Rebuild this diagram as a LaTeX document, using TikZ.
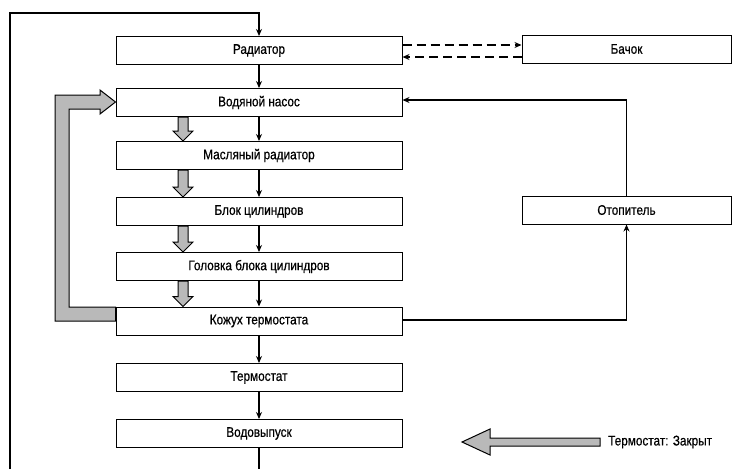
\documentclass[tikz,border=0pt]{standalone}
\usepackage{fontspec}
\setmainfont{Liberation Sans}[FakeStretch=0.84,FakeBold=0.6]
\usetikzlibrary{arrows.meta,calc}
\begin{document}
\begin{tikzpicture}[x=1pt,y=-1pt,
  box/.style={draw, line width=1pt, minimum width=286pt, minimum height=28pt, inner sep=0pt, font=\fontsize{14}{16}\selectfont},
  sbox/.style={box, minimum width=209pt},
  flow/.style={line width=1.3pt, -{Stealth[length=7pt,width=6pt]}},
  dflow/.style={flow, dash pattern=on 9pt off 5pt},
  hatch/.style={draw=black, line width=1pt, fill=gray!55, line join=miter}]
\useasboundingbox (0,0) rectangle (733,469);
% main column
\node[box] (rad) at (259,50.5) {Радиатор};
\node[box] (pump) at (259,102.5) {Водяной насос};
\node[box] (oil) at (259,155.5) {Масляный радиатор};
\node[box] (blk) at (259,211.5) {Блок цилиндров};
\node[box] (head) at (259,266.5) {Головка блока цилиндров};
\node[box] (hous) at (259,321) {Кожух термостата};
\node[box] (thermo) at (259,377.5) {Термостат};
\node[box] (outl) at (259,433.5) {Водовыпуск};
% right column
\node[sbox] (tank) at (626.5,49) {Бачок};
\node[sbox] (heat) at (626.5,210) {Отопитель};
% legend text
\node[anchor=west, inner sep=0pt, font=\fontsize{14}{16}\selectfont] (leg) at (608,442) {Термостат: Закрыт};
% coordinates for free ends
\coordinate (bl) at (10,469);
\coordinate (tl) at (10,13);
\coordinate (bot) at (259,469);
\coordinate (lt) at (600,442);
% thin connectors
\draw[flow] (bl) -- (tl) -| (rad.north);
\draw[flow] (rad) -- (pump);
\draw[flow] (pump) -- (oil);
\draw[flow] (oil) -- (blk);
\draw[flow] (blk) -- (head);
\draw[flow] (head) -- (hous);
\draw[flow] (hous) -- (thermo);
\draw[flow] (thermo) -- (outl);
\draw[line width=1.3pt] (outl.south) -- (bot);
\draw[dflow] (rad.east |- 0,45) -- (tank.west |- 0,45);
\draw[dflow] (tank.west |- 0,57) -- (rad.east |- 0,57);
\draw[flow] (heat.north) |- (pump.east |- 0,100);
\draw[flow] (hous.east |- 0,320) -| (heat.south);
% hatched down arrows
\foreach \a/\b in {pump/oil, oil/blk, blk/head, head/hous}{
  \path (183,0 |- \a.south) coordinate (s) (183,0 |- \b.north) coordinate (e);
  \draw[hatch] ($(s)+(-5,0)$) -- ($(e)+(-5,-10)$) -- ($(e)+(-10,-10)$) -- (e) -- ($(e)+(10,-10)$) -- ($(e)+(5,-10)$) -- ($(s)+(5,0)$) -- cycle;
}
% L-shaped bypass arrow
\draw[hatch] (hous.west |- 0,307) -- (69,307) -- (69,109) -- (100,109) -- (100,114) -- (pump.west |- 0,102) -- (100,90) -- (100,95) -- (55,95) -- (55,321) -- (hous.west |- 0,321) -- cycle;
% legend arrow
\draw[hatch] ($(lt)+(0,-4)$) -- (490,438) -- (490,429) -- (462,442) -- (490,455) -- (490,446) -- ($(lt)+(0,4)$) -- cycle;
\end{tikzpicture}
\end{document}
